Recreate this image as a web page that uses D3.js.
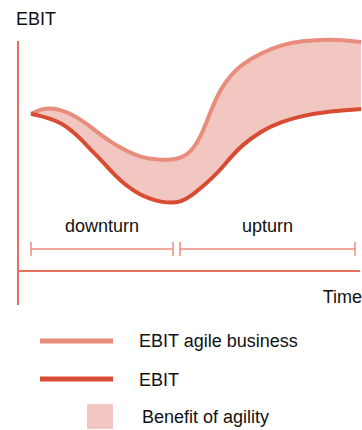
<!DOCTYPE html>
<html>
<head>
<meta charset="utf-8">
<script src="https://cdn.jsdelivr.net/npm/d3@7"></script>
<style>
  body { margin: 0; background: #fff; }
  text { font-family: "Liberation Sans", Arial, sans-serif; fill: #111; }
</style>
</head>
<body>
<div id="chart"></div>
<script>
// time steps along the x axis
const times = [0, 1, 2, 3, 4, 5, 6, 7, 8, 9, 10, 11, 12, 13, 14, 15, 16, 17, 18, 19, 20, 21, 23, 25, 27, 30, 33];
// EBIT of an agile business (upper curve)
const ebitAgile = [68.3, 70.4, 70.9, 70.0, 68.3, 65.7, 62.6, 59.1, 56.1, 53.5, 51.3, 49.6, 48.7, 48.3,
  48.3, 49.1, 51.7, 58.3, 70.0, 79.6, 85.2, 89.6, 94.8, 98.3, 100.0, 100.9, 99.6];
// plain EBIT (lower curve)
const ebit = [68.3, 67.4, 66.1, 64.3, 61.3, 57.4, 52.6, 48.3, 43.5, 39.1, 35.7, 33.0, 31.3, 30.0,
  29.6, 30.0, 32.6, 36.1, 40.0, 44.3, 49.6, 54.3, 60.9, 64.8, 67.4, 69.6, 70.4];
// phases shown as brackets under the curves
const phaseLabels = ['downturn', 'upturn'];
const phaseStart = [0, 14.9];
const phaseEnd = [14.2, 32.4];
const legendLabels = ['EBIT agile business', 'EBIT', 'Benefit of agility'];

const width = 362, height = 430;
const colAxis = '#e8705f',
  colBracket = '#ee8b7d',
  colAgile = '#e88c7c',
  colEbit = '#d94c34',
  colFill = '#f3c7c1';

const svg = d3.select('#chart')
  .append('svg')
  .attr('width', width)
  .attr('height', height);

const x = d3.scaleLinear().domain([0, 33]).range([31, 361]);
const y = d3.scaleLinear().domain([0, 100]).range([271, 41]);

const data = times.map((t, i) => ({ t: t, hi: ebitAgile[i], lo: ebit[i] }));
// basis smooths out the reading noise in the traced points
const curve = d3.curveBasis;

// area between the two curves
const area = d3.area()
  .curve(curve)
  .x(d => x(d.t))
  .y0(d => y(d.lo))
  .y1(d => y(d.hi));

svg.append('path')
  .datum(data)
  .attr('d', area)
  .attr('fill', colFill);

const lineHi = d3.line().curve(curve).x(d => x(d.t)).y(d => y(d.hi));
const lineLo = d3.line().curve(curve).x(d => x(d.t)).y(d => y(d.lo));

svg.append('path')
  .datum(data)
  .attr('d', lineHi)
  .attr('fill', 'none')
  .attr('stroke', colAgile)
  .attr('stroke-width', 4);

svg.append('path')
  .datum(data)
  .attr('d', lineLo)
  .attr('fill', 'none')
  .attr('stroke', colEbit)
  .attr('stroke-width', 4);

// axes
svg.append('line')
  .attr('x1', 18).attr('x2', 18)
  .attr('y1', 41).attr('y2', 305)
  .attr('stroke', colAxis).attr('stroke-width', 2);

svg.append('line')
  .attr('x1', 18).attr('x2', 360)
  .attr('y1', y(0)).attr('y2', y(0))
  .attr('stroke', colAxis).attr('stroke-width', 2);

svg.append('text')
  .attr('x', 16).attr('y', 25)
  .style('font-size', '18px')
  .text('EBIT');

svg.append('text')
  .attr('x', 362).attr('y', 303)
  .attr('text-anchor', 'end')
  .style('font-size', '18px')
  .text('Time');

// phase brackets
const bracketY = 249;
const phases = svg.selectAll('.phase')
  .data(phaseLabels)
  .join('g')
  .attr('class', 'phase');

phases.append('line')
  .attr('x1', (d, i) => x(phaseStart[i]))
  .attr('x2', (d, i) => x(phaseEnd[i]))
  .attr('y1', bracketY).attr('y2', bracketY)
  .attr('stroke', colBracket).attr('stroke-width', 1.5);

phases.selectAll('.tick')
  .data((d, i) => [phaseStart[i], phaseEnd[i]])
  .join('line')
  .attr('class', 'tick')
  .attr('x1', d => x(d)).attr('x2', d => x(d))
  .attr('y1', bracketY - 7).attr('y2', bracketY + 7)
  .attr('stroke', colBracket).attr('stroke-width', 1.5);

phases.append('text')
  .attr('x', (d, i) => (x(phaseStart[i]) + x(phaseEnd[i])) / 2)
  .attr('y', 232)
  .attr('text-anchor', 'middle')
  .style('font-size', '18px')
  .text(d => d);

// legend
const legend = svg.append('g');
legend.append('line')
  .attr('x1', 40).attr('x2', 113)
  .attr('y1', 341).attr('y2', 341)
  .attr('stroke', colAgile).attr('stroke-width', 5);
legend.append('line')
  .attr('x1', 40).attr('x2', 113)
  .attr('y1', 379).attr('y2', 379)
  .attr('stroke', colEbit).attr('stroke-width', 5);
legend.append('rect')
  .attr('x', 87).attr('y', 404)
  .attr('width', 26).attr('height', 25)
  .attr('fill', colFill);

legend.selectAll('text')
  .data(legendLabels)
  .join('text')
  .attr('x', (d, i) => i === 2 ? 142 : 139)
  .attr('y', (d, i) => [347, 386, 423][i])
  .style('font-size', '18px')
  .text(d => d);
</script>
</body>
</html>
